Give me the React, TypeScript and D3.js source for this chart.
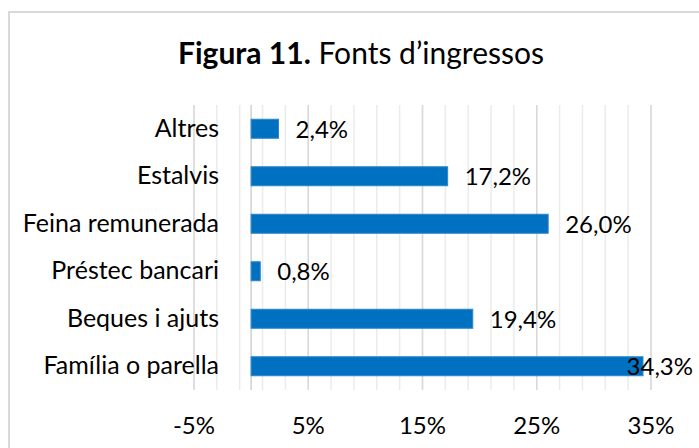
import React from "react";
import * as d3 from "d3";

const categories = ["Altres", "Estalvis", "Feina remunerada", "Préstec bancari", "Beques i ajuts", "Família o parella"];
const values = [2.4, 17.2, 26.0, 0.8, 19.4, 34.3];
const majorTicks = [-5, 5, 15, 25, 35];
const minorTicks = d3.range(-5, 36, 2);

const W = 699;
const H = 448;
const FONT = "Lato, 'Open Sans', sans-serif";

export default function App() {
  const x = d3.scaleLinear().domain([-5, 35]).range([194, 651]);
  const y = d3.scaleBand<string>().domain(categories).range([105, 390]).paddingInner(0.6).paddingOuter(0.3);
  const fmt = (v: number) => v.toFixed(1).replace(".", ",") + "%";
  const labelW = 66;
  const rightLimit = 693;

  return (
    <svg width={W} height={H} style={{ position: "absolute", left: 0, top: 0, background: "#fff" }}>
      <rect x={9} y={12} width={W + 20} height={H + 20} fill="#fff" stroke="#d9d9d9" strokeWidth={2} />
      <text x={178} y={64} fontFamily={FONT} fontSize={30} fill="#000">
        <tspan fontWeight="bold">Figura 11.</tspan>
        <tspan> Fonts d’ingressos</tspan>
      </text>
      {minorTicks.map((t) => (
        <line key={"m" + t} x1={x(t)} x2={x(t)} y1={105} y2={390} stroke="#ebebeb" strokeWidth={1.5} />
      ))}
      {majorTicks.map((t) => (
        <line key={"M" + t} x1={x(t)} x2={x(t)} y1={105} y2={390} stroke="#d9d9d9" strokeWidth={1.5} />
      ))}
      <line x1={x(0)} x2={x(0)} y1={105} y2={390} stroke="#d0d0d0" strokeWidth={1.5} />
      {categories.map((c, i) => {
        const yy = y(c)!;
        const xe = x(values[i]);
        const overflow = xe + 17 + labelW > rightLimit;
        return (
          <g key={c}>
            <rect x={x(0)} y={yy} width={xe - x(0)} height={y.bandwidth()} fill="#0070C0" stroke="#2e86cc" strokeWidth={1} />
            <text x={219} y={yy + y.bandwidth() / 2 + 8} textAnchor="end" fontFamily={FONT} fontSize={25} fill="#000">
              {c}
            </text>
            <text
              x={overflow ? rightLimit : xe + 17}
              y={yy + y.bandwidth() / 2 + 9}
              textAnchor={overflow ? "end" : "start"}
              fontFamily={FONT}
              fontSize={24}
              fill="#000"
            >
              {fmt(values[i])}
            </text>
          </g>
        );
      })}
      {majorTicks.map((t) => (
        <text key={"t" + t} x={x(t)} y={434} textAnchor="middle" fontFamily={FONT} fontSize={24} fill="#000">
          {t + "%"}
        </text>
      ))}
    </svg>
  );
}
